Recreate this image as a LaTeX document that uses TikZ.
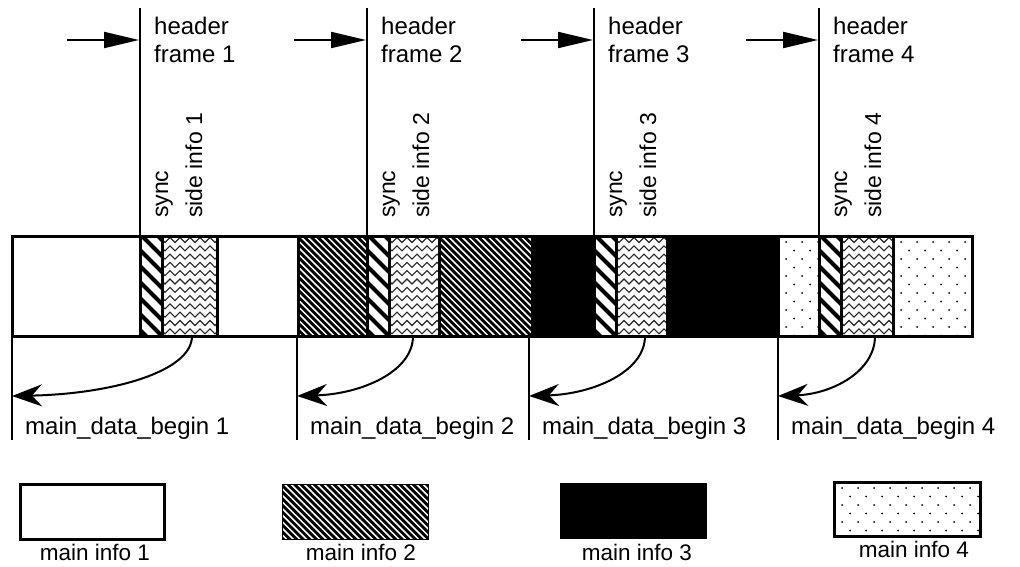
\documentclass[tikz,border=0pt]{standalone}
\usepackage{fontspec}
\setmainfont{Liberation Sans}
\usetikzlibrary{arrows.meta,decorations.pathmorphing}

% dense diagonal hatching (main info 2)
\newcommand\hatchbox[4]{%
  \begin{scope}
    \clip (#1,#2) rectangle (#3,#4);
    \fill[black] (#1,#2) rectangle (#3,#4);
    \foreach \i in {0,...,60}
      \draw[white,line width=1.5pt] ({#1-110+6.6*\i},#2) -- ++(110,110);
  \end{scope}}
% coarse stripes (sync word)
\newcommand\syncfill[4]{%
  \begin{scope}
    \clip (#1,#2) rectangle (#3,#4);
    \foreach \i in {0,...,10}
      \draw[line width=4pt] ({#1-110+16*\i},#2) -- ++(110,110);
  \end{scope}}
% wavy rows (side info)
\newcommand\wavefill[4]{%
  \begin{scope}
    \clip (#1,#2) rectangle (#3,#4);
    \foreach \i in {0,...,12}
      \draw[black!85,line width=1.1pt,decorate,
            decoration={zigzag,segment length=10pt,amplitude=2.5pt}]
        ({#1-5},{#2+4+8.3*\i}) -- ({#3+5},{#2+4+8.3*\i});
  \end{scope}}
% staggered dots (main info 4)
\newcommand\stipple[4]{%
  \begin{scope}
    \clip (#1,#2) rectangle (#3,#4);
    \foreach \r in {0,...,12}
      \foreach \c in {0,...,10}
        \fill ({#1+8+16*\c+8*mod(\r,2)},{#2+6+8.5*\r}) circle (1pt);
  \end{scope}}

\begin{document}
\begin{tikzpicture}[x=1pt,y=-1pt,
  txt/.style={font=\fontsize{24}{28}\selectfont,inner sep=0pt,anchor=base west},
  sidetxt/.style={font=\fontsize{23}{27}\selectfont,inner sep=0pt,rotate=90,anchor=base west},
  legtxt/.style={font=\fontsize{22.5}{27}\selectfont,inner sep=0pt,anchor=base},
  rule/.style={line width=2pt},
  edge/.style={line width=3pt},
  feed/.style={line width=2pt,-{Triangle[length=35pt,width=16pt]}},
  backptr/.style={line width=2pt,-{Stealth[length=30pt,width=22pt,inset=10pt]}}]
\useasboundingbox (0,0) rectangle (1020,567);

% ---- frame bar: main data fills ----
\hatchbox{298}{236}{367}{336}
\hatchbox{439}{236}{532}{336}
\fill (532,236) rectangle (594,336);
\fill (667,236) rectangle (778,336);
\stipple{778}{236}{819}{336}
\stipple{893}{236}{972}{336}

% ---- per frame: header line, sync, side info, pointers ----
\foreach \k/\L/\S/\C/\T in {1/140/217/192/12, 2/367/439/413/297,
                            3/594/667/645/529, 4/819/893/875/778}{
  \syncfill{\L}{236}{\L+22.5}{336}
  \wavefill{\L+22.5}{236}{\S}{336}
  \draw[edge] (\L,236) rectangle (\L+22.5,336);
  \draw[edge] (\L+22.5,236) rectangle (\S,336);
  % header marker
  \coordinate (top\k) at (\L,8);
  \coordinate (bar\k) at (\L,236);
  \coordinate (in\k)  at (\L-73,40);
  \coordinate (hit\k) at (\L-1,40);
  \draw[rule] (top\k) -- (bar\k);
  \draw[feed] (in\k) -- (hit\k);
  \node[txt] (hd\k) at (\L+14,35) {header};
  \node[txt] (fr\k) at (\L+14,63) {frame \k};
  \node[sidetxt] (sy\k) at (\L+28,218) {sync};
  \node[sidetxt] (si\k) at (\L+62,218) {side info \k};
  % main_data_begin pointer
  \coordinate (mdb\k) at (\T,336);
  \coordinate (mdbend\k) at (\T,440);
  \coordinate (tip\k) at (\T,396);
  \coordinate (src\k) at (\C,336);
  \draw[rule] (mdb\k) -- (mdbend\k);
  \draw[backptr] (src\k) .. controls (\C,372) and ({\T+0.55*(\C-\T)},394) .. (tip\k);
  \node[txt] (lb\k) at (\T+13,434) {main\_data\_begin \k};
}

% ---- bar outlines ----
\draw[edge] (12,236) rectangle (140,336);
\draw[edge] (217,236) -- (298,236) (217,336) -- (298,336);
\draw[edge] (298,236) rectangle (367,336);
\draw[edge] (439,236) rectangle (532,336);
\draw[edge] (532,236) -- (594,236) (532,336) -- (594,336);
\draw[edge] (667,236) -- (778,236) (667,336) -- (778,336);
\draw[edge] (778,236) rectangle (819,336);
\draw[edge] (893,236) rectangle (972,336);

% ---- legend ----
\draw[edge] (20,484) rectangle (164,539);
\hatchbox{282}{484}{428}{539}
\draw[line width=1pt] (282,484) rectangle (428,539);
\fill (560,483) rectangle (707,539);
\stipple{834}{482}{980}{536}
\draw[edge] (834,482) rectangle (980,536);
\node[legtxt] (k1) at (95,560) {main info 1};
\node[legtxt] (k2) at (361,560) {main info 2};
\node[legtxt] (k3) at (637,560) {main info 3};
\node[legtxt] (k4) at (914,557) {main info 4};
\end{tikzpicture}
\end{document}
